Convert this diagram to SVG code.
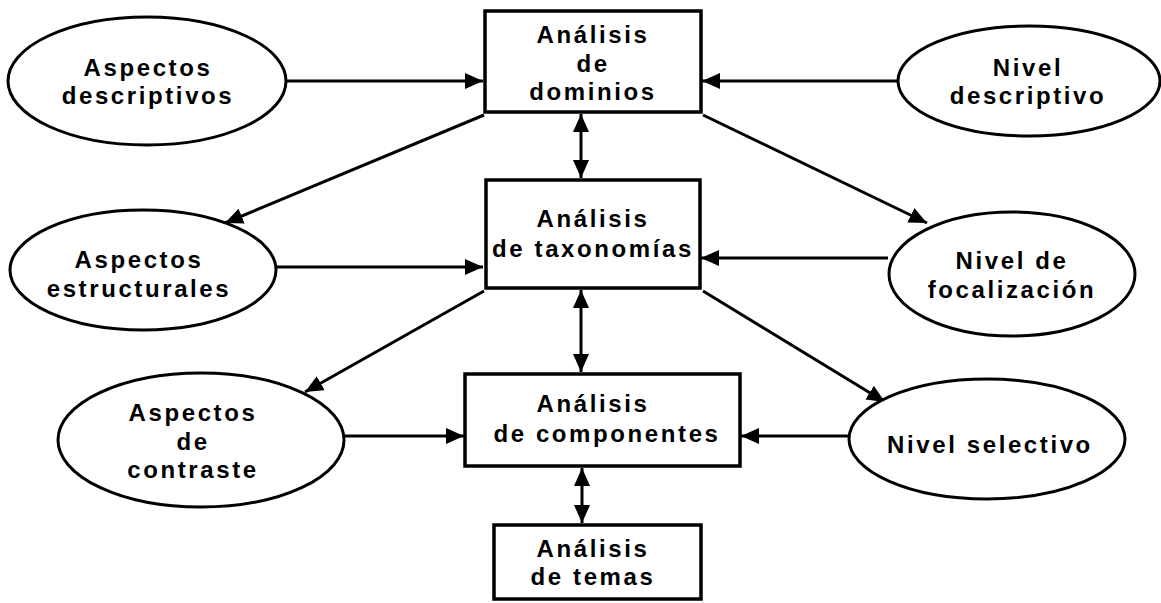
<svg xmlns="http://www.w3.org/2000/svg" width="1161" height="603" viewBox="0 0 1161 603">
<defs>
<marker id="ah" markerUnits="userSpaceOnUse" markerWidth="20" markerHeight="18" refX="18" refY="8" orient="auto-start-reverse">
<path d="M0,0 L18,8 L0,16 Z" fill="#000"/>
</marker>
</defs>
<style>
.n{fill:#fff;stroke:#000;stroke-width:3.5}
.e{fill:#fff;stroke:#000;stroke-width:3}
.t{font-family:"Liberation Sans",Arial,sans-serif;font-weight:bold;font-size:24px;letter-spacing:2.6px;text-anchor:middle;fill:#000}
.c line{stroke:#000;stroke-width:3}
.c .s{marker-end:url(#ah)}
.c .d{marker-start:url(#ah);marker-end:url(#ah)}
</style>
<rect width="1161" height="603" fill="#fff"/>
<g class="c" id="connectors">
<line class="s" x1="287" y1="81" x2="483" y2="81"/>
<line class="s" x1="897" y1="81" x2="702" y2="81"/>
<line class="s" x1="484" y1="115" x2="225" y2="223"/>
<line class="s" x1="703" y1="115" x2="927" y2="223"/>
<line class="d" x1="581" y1="114" x2="581" y2="178"/>
<line class="s" x1="277" y1="267" x2="483" y2="267"/>
<line class="s" x1="888" y1="258" x2="701" y2="258"/>
<line class="s" x1="484" y1="291" x2="305" y2="392"/>
<line class="s" x1="703" y1="291" x2="885" y2="402"/>
<line class="d" x1="581" y1="290" x2="581" y2="372"/>
<line class="s" x1="345" y1="436" x2="464" y2="436"/>
<line class="s" x1="848" y1="436" x2="741" y2="436"/>
<line class="d" x1="582" y1="468" x2="582" y2="523"/>
</g>
<g id="n-dominios">
<rect class="n" x="485" y="11" width="216" height="101"/>
<text class="t" x="593" y="43">Análisis</text>
<text class="t" x="593" y="72">de</text>
<text class="t" x="593" y="100">dominios</text>
</g>
<g id="n-taxonomias">
<rect class="n" x="486" y="180" width="214" height="108"/>
<text class="t" x="593" y="227">Análisis</text>
<text class="t" x="593" y="257">de taxonomías</text>
</g>
<g id="n-componentes">
<rect class="n" x="465" y="374" width="275" height="92"/>
<text class="t" x="593" y="412">Análisis</text>
<text class="t" x="607" y="442">de componentes</text>
</g>
<g id="n-temas">
<rect class="n" x="494" y="525" width="207" height="74"/>
<text class="t" x="593" y="557">Análisis</text>
<text class="t" x="593" y="585">de temas</text>
</g>
<g id="n-asp-desc">
<ellipse class="e" cx="147" cy="81" rx="139" ry="64"/>
<text class="t" x="148" y="76">Aspectos</text>
<text class="t" x="148" y="104">descriptivos</text>
</g>
<g id="n-niv-desc">
<ellipse class="e" cx="1029" cy="81" rx="131" ry="55"/>
<text class="t" x="1028" y="76">Nivel</text>
<text class="t" x="1028" y="104">descriptivo</text>
</g>
<g id="n-asp-estr">
<ellipse class="e" cx="143" cy="270" rx="133" ry="60"/>
<text class="t" x="139" y="268">Aspectos</text>
<text class="t" x="139" y="297">estructurales</text>
</g>
<g id="n-niv-foc">
<ellipse class="e" cx="1012" cy="274" rx="123" ry="62"/>
<text class="t" x="1012" y="269">Nivel de</text>
<text class="t" x="1012" y="298">focalización</text>
</g>
<g id="n-asp-contr">
<ellipse class="e" cx="201" cy="440" rx="143" ry="67"/>
<text class="t" x="193" y="421">Aspectos</text>
<text class="t" x="193" y="450">de</text>
<text class="t" x="193" y="478">contraste</text>
</g>
<g id="n-niv-sel">
<ellipse class="e" cx="987" cy="439" rx="138" ry="60"/>
<text class="t" x="990" y="453">Nivel selectivo</text>
</g>
</svg>
